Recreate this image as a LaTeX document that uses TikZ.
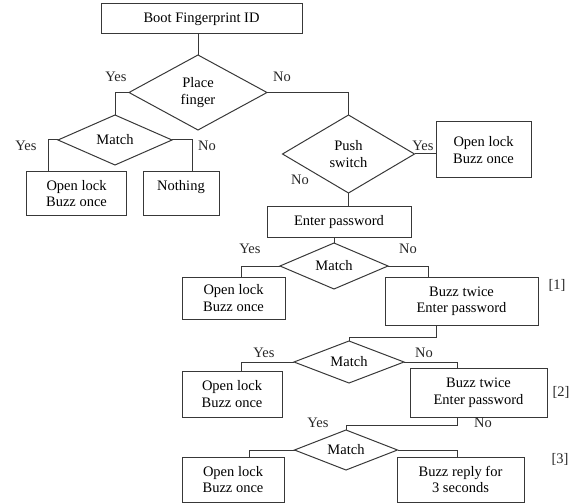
\documentclass[tikz,border=0pt]{standalone}
\usepackage{fontspec}
\setmainfont{Liberation Serif}
\usetikzlibrary{shapes.geometric}
\begin{document}
\begin{tikzpicture}[x=1bp,y=-1bp,
  every node/.style={font=\fontsize{14.5bp}{16.5bp}\selectfont, inner sep=0pt, outer sep=0pt},
  box/.style={draw=black!78, line width=1bp, rectangle, align=center},
  dia/.style={draw=black!78, line width=1bp, diamond, align=center},
  conn/.style={draw=black!78, line width=1bp},
  lbl/.style={text=black!85}]
\useasboundingbox (0,0) rectangle (576,503);
% boxes
\node[box, minimum width=201bp, minimum height=30bp] (b0) at (201.5,19) {Boot Fingerprint ID};
\node[box, minimum width=99bp, minimum height=43bp] (b1) at (76.5,193.5) {Open lock\\Buzz once};
\node[box, minimum width=76bp, minimum height=43bp] (b2) at (181,193.5) {Nothing\\~};
\node[box, minimum width=95bp, minimum height=56bp] (b3) at (483.5,150) {Open lock\\Buzz once};
\node[box, minimum width=144bp, minimum height=30bp] (b4) at (339,222) {Enter password};
\node[box, minimum width=103bp, minimum height=42bp] (b5) at (233.5,298) {Open lock\\Buzz once};
\node[box, minimum width=153bp, minimum height=48bp] (b6) at (461.5,301) {Buzz twice\\Enter password};
\node[box, minimum width=100bp, minimum height=46bp] (b7) at (232,394) {Open lock\\Buzz once};
\node[box, minimum width=137bp, minimum height=49bp] (b8) at (478.5,392.5) {Buzz twice\\Enter password};
\node[box, minimum width=102bp, minimum height=45bp] (b9) at (233,479.5) {Open lock\\Buzz once};
\node[box, minimum width=127bp, minimum height=45bp] (b10) at (460.5,479.5) {Buzz reply for\\3 seconds};
% diamonds
\node[dia, aspect=1.84, minimum width=138bp, minimum height=75bp] (d1) at (198,92.5) {Place\\finger};
\node[dia, aspect=2.28, minimum width=114bp, minimum height=50bp] (d2) at (115,140) {Match};
\node[dia, aspect=1.69, minimum width=132bp, minimum height=78bp] (d3) at (348.5,154) {Push\\switch};
\node[dia, aspect=2.35, minimum width=108bp, minimum height=46bp] (d4) at (334,266) {Match};
\node[dia, aspect=2.62, minimum width=110bp, minimum height=42bp] (d5) at (349,362) {Match};
\node[dia, aspect=2.57, minimum width=103bp, minimum height=40bp] (d6) at (346,450) {Match};
% connectors
\draw[conn] (d1.north |- b0.south) -- (d1.north);
\draw[conn] (d1.west) -| (d2.north);
\draw[conn] (d2.west) -| ([xshift=21bp]b1.north west);
\draw[conn] (d2.east) -| ([xshift=49bp]b2.north west);
\draw[conn] (d1.east) -| (d3.north);
\draw[conn] (d3.east) -- (d3.east -| b3.west);
\draw[conn] (d3.south) -- (d3.south |- b4.north);
\draw[conn] (d4.north |- b4.south) -- (d4.north);
\draw[conn] (d4.west) -| ([xshift=59bp]b5.north west);
\draw[conn] (d4.east) -| ([xshift=43bp]b6.north west);
\draw[conn] ([xshift=51bp]b6.south west) -- ++(0,12) -| (d5.north);
\draw[conn] (d5.west) -| ([xshift=59bp]b7.north west);
\draw[conn] (d5.east) -| ([xshift=47bp]b8.north west);
\draw[conn] ([xshift=47bp]b8.south west) -- ++(0,8) -| (d6.north);
\draw[conn] (d6.west) -| ([xshift=67bp]b9.north west);
\draw[conn] (d6.east) -| ([xshift=60bp]b10.north west);
% labels
\node[lbl] (l1) at (116,77) {Yes};
\node[lbl] (l2) at (282,77) {No};
\node[lbl] (l3) at (26,146) {Yes};
\node[lbl] (l4) at (207,146) {No};
\node[lbl] (l5) at (423,146) {Yes};
\node[lbl] (l6) at (300,180) {No};
\node[lbl] (l7) at (250,249) {Yes};
\node[lbl] (l8) at (408,249) {No};
\node[lbl] (l9) at (264,353) {Yes};
\node[lbl] (l10) at (424,353) {No};
\node[lbl] (l11) at (318,423) {Yes};
\node[lbl] (l12) at (483,423) {No};
\node[lbl] (n1) at (557,285) {[1]};
\node[lbl] (n2) at (561,392) {[2]};
\node[lbl] (n3) at (560,459) {[3]};
\end{tikzpicture}
\end{document}
